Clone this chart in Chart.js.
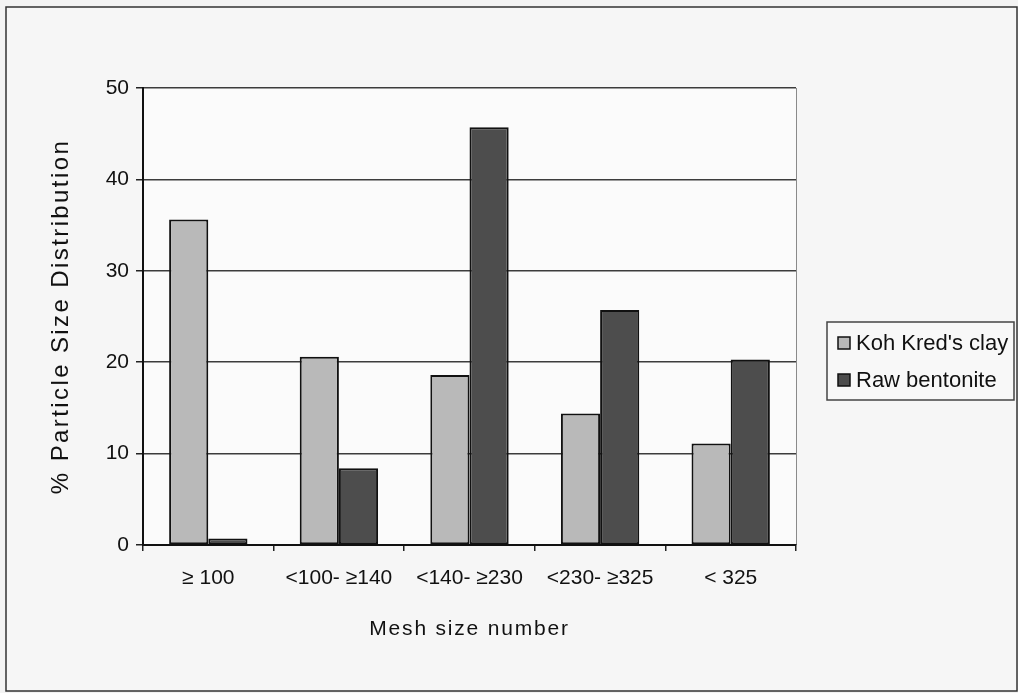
<!DOCTYPE html>
<html lang="en">
<head>
    <meta charset="UTF-8">
    <title>Particle Size Distribution</title>
    <script src="https://cdn.jsdelivr.net/npm/chart.js"></script>
    <style>
        html, body { margin: 0; padding: 0; background: #f2f2f2; }
        canvas { display: block; }
    </style>
</head>
<body>
    <canvas id="meshChart" width="1018" height="693"></canvas>

    <script>
// data
const meshSizes = ['≥ 100', '<100- ≥140', '<140- ≥230', '<230- ≥325', '< 325'];
const kohKredClay = [35.6, 20.6, 18.6, 14.4, 11.1];
const rawBentonite = [0.7, 8.4, 45.7, 25.7, 20.3];
const seriesNames = ["Koh Kred's clay", 'Raw bentonite'];
const yMin = 0, yMax = 50, yStep = 10;

const font = "'Liberation Sans', Arial, sans-serif";

// page frame, plot background and right border of the plot
const framePlugin = {
    id: 'frame',
    beforeDraw(chart) {
        const ctx = chart.ctx, a = chart.chartArea;
        ctx.save();
        ctx.fillStyle = '#f3f3f3';
        ctx.fillRect(0, 0, chart.width, chart.height);
        ctx.fillStyle = '#f6f6f6';
        ctx.fillRect(6, 7, 1011, 684);
        ctx.strokeStyle = '#333';
        ctx.lineWidth = 1.5;
        ctx.strokeRect(6, 7, 1011, 684);
        ctx.fillStyle = '#fbfbfb';
        ctx.fillRect(a.left, a.top, a.right - a.left, a.bottom - a.top);
        ctx.strokeStyle = '#8a8a8a';
        ctx.lineWidth = 1;
        ctx.beginPath();
        ctx.moveTo(a.right + 0.5, a.top);
        ctx.lineTo(a.right + 0.5, a.bottom);
        ctx.stroke();
        ctx.restore();
    }
};

// boxed legend on the right, like the old spreadsheet one
const boxLegend = {
    id: 'boxLegend',
    afterDraw(chart) {
        const ctx = chart.ctx;
        const x = 827, y = 322, w = 187, h = 78;
        ctx.save();
        ctx.fillStyle = '#f8f8f8';
        ctx.fillRect(x, y, w, h);
        ctx.strokeStyle = '#444';
        ctx.lineWidth = 1.5;
        ctx.strokeRect(x, y, w, h);
        ctx.font = '22px ' + font;
        ctx.textBaseline = 'middle';
        chart.data.datasets.forEach((ds, i) => {
            const cy = y + 21 + i * 37;
            ctx.fillStyle = ds.backgroundColor;
            ctx.fillRect(x + 11, cy - 6, 12, 12);
            ctx.strokeStyle = '#111';
            ctx.lineWidth = 1.5;
            ctx.strokeRect(x + 11, cy - 6, 12, 12);
            ctx.fillStyle = '#111';
            ctx.fillText(ds.label, x + 29, cy + 1);
        });
        ctx.restore();
    }
};

// axis titles are drawn a bit spaced out in the original
const titleSpacing = {
    id: 'titleSpacing',
    afterUpdate(chart) {
        const spacing = { x: '1.8px', y: '2.4px' };
        Object.keys(spacing).forEach(id => {
            const s = chart.scales[id];
            if (!s || s._spaced) return;
            const orig = s.drawTitle;
            s.drawTitle = function () {
                this.ctx.letterSpacing = spacing[id];
                orig.apply(this, arguments);
                this.ctx.letterSpacing = '0px';
            };
            s._spaced = true;
        });
    }
};

const ctx = document.getElementById('meshChart').getContext('2d');
const meshChart = new Chart(ctx, {
    type: 'bar',
    data: {
        labels: meshSizes,
        datasets: [
            {
                label: seriesNames[0],
                data: kohKredClay,
                backgroundColor: '#b9b9b9',
                borderColor: '#111',
                borderWidth: 2,
                borderSkipped: false
            },
            {
                label: seriesNames[1],
                data: rawBentonite,
                backgroundColor: '#4d4d4d',
                borderColor: '#111',
                borderWidth: 2,
                borderSkipped: false
            }
        ]
    },
    options: {
        responsive: false,
        animation: false,
        layout: { padding: { left: 45, top: 88, right: 222, bottom: 50 } },
        datasets: { bar: { categoryPercentage: 0.6, barPercentage: 1 } },
        plugins: {
            legend: { display: false },
            tooltip: { enabled: false }
        },
        scales: {
            x: {
                grid: { drawOnChartArea: false, offset: true, tickLength: 6, tickColor: '#222', lineWidth: 1.5 },
                border: { color: '#111', width: 2 },
                ticks: { color: '#111', font: { family: font, size: 21 }, padding: 15, maxRotation: 0 },
                title: { display: true, text: 'Mesh size number', color: '#111', font: { family: font, size: 21 }, padding: { top: 4, bottom: 1 } },
                afterFit(s) { s.height = 98; }
            },
            y: {
                min: yMin,
                max: yMax,
                ticks: { stepSize: yStep, color: '#111', font: { family: font, size: 21 }, padding: 7 },
                grid: { color: '#3c3c3c', lineWidth: 1.5, tickLength: 7, tickColor: '#222' },
                border: { color: '#111', width: 2 },
                title: { display: true, text: '% Particle Size Distribution', color: '#111', font: { family: font, size: 24 }, padding: { top: 2, bottom: 0 } },
                afterFit(s) { s.width = 98; }
            }
        }
    },
    plugins: [framePlugin, boxLegend, titleSpacing]
});
    </script>
</body>
</html>
